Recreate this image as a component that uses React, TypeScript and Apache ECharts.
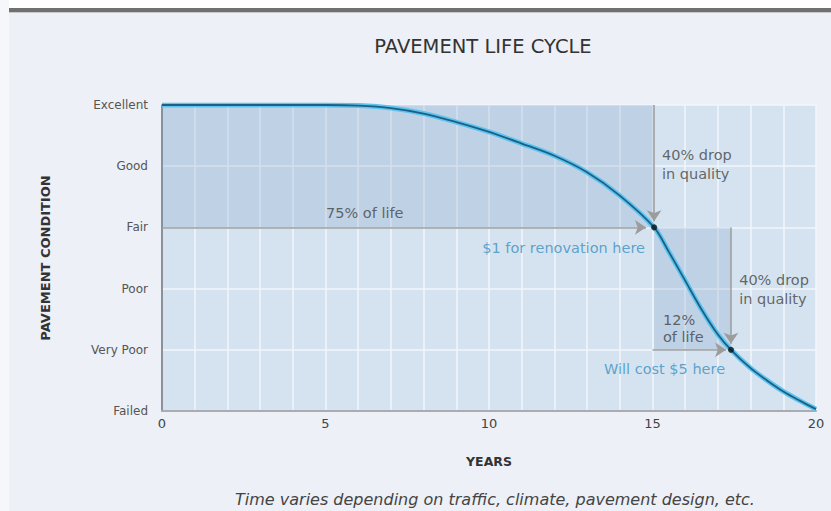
import React, { useEffect, useRef } from "react";
import * as echarts from "echarts";

const conditionLabels = ["Failed", "Very Poor", "Poor", "Fair", "Good", "Excellent"];
const yearTicks = [0, 5, 10, 15, 20];
const curveYears = [0, 5, 6, 7, 8, 9, 10, 11, 12, 13, 14, 15.05, 15.5, 16, 16.5, 17, 17.4, 18, 18.5, 19, 19.5, 20];
const curveCondition = [5, 5, 4.99, 4.95, 4.86, 4.72, 4.56, 4.37, 4.17, 3.9, 3.52, 3.0, 2.6, 2.13, 1.66, 1.25, 1.0, 0.7, 0.5, 0.32, 0.17, 0.03];
const keyPoints = [
  [15.05, 3],
  [17.4, 1],
];
const shadedAreas = [
  [[0, 5], [15.05, 3]],
  [[15.05, 3], [17.4, 1]],
];
const arrows = [
  [[0, 3], [14.8, 3]],
  [[15.05, 5], [15.05, 3.1]],
  [[17.4, 3], [17.4, 1.1]],
  [[15.0, 1], [17.25, 1]],
];
const notes = [
  { x: 6.2, y: 3.24, text: "75% of life", align: "center", color: "#444", lh: 18 },
  { x: 15.29, y: 4.02, text: "40% drop\nin quality", align: "left", color: "#444", lh: 19 },
  { x: 14.77, y: 2.67, text: "$1 for renovation here", align: "right", color: "#3d8fbf", lh: 18 },
  { x: 17.65, y: 1.98, text: "40% drop\nin quality", align: "left", color: "#444", lh: 19 },
  { x: 15.32, y: 1.35, text: "12%\nof life", align: "left", color: "#444", lh: 17 },
  { x: 17.22, y: 0.68, text: "Will cost $5 here", align: "right", color: "#3d8fbf", lh: 18 },
];

const FONT = "'DejaVu Sans', 'Open Sans', sans-serif";

export default function App() {
  const ref = useRef<HTMLDivElement>(null);
  useEffect(() => {
    if (!ref.current) return;
    const chart = echarts.init(ref.current, undefined, { renderer: "svg" });
    const curve = curveYears.map((x, i) => [x, curveCondition[i]]);
    chart.setOption({
      animation: false,
      backgroundColor: "#edf0f6",
      textStyle: { fontFamily: FONT },
      graphic: [
        { type: "rect", shape: { x: 0, y: 0, width: 831, height: 8 }, style: { fill: "#ffffff" }, silent: true },
        { type: "rect", shape: { x: 0, y: 0, width: 9, height: 511 }, style: { fill: "#f6f7fa" }, silent: true },
        { type: "rect", shape: { x: 9, y: 8, width: 822, height: 4 }, style: { fill: "#707070" }, silent: true },
        { type: "rect", shape: { x: 9, y: 12, width: 822, height: 1 }, style: { fill: "#c8c8c8" }, silent: true },
      ],
      title: [
        {
          text: "PAVEMENT LIFE CYCLE",
          left: 478,
          textAlign: "center",
          top: 31,
          textStyle: { fontFamily: FONT, fontSize: 19.5, fontWeight: "normal", color: "#333" },
        },
        {
          text: "Time varies depending on traffic, climate, pavement design, etc.",
          left: 490,
          textAlign: "center",
          top: 486,
          textStyle: { fontFamily: FONT, fontSize: 16, fontWeight: "normal", fontStyle: "italic", color: "#444" },
        },
      ],
      grid: {
        left: 162,
        right: 15,
        top: 105,
        bottom: 100,
        show: true,
        backgroundColor: "#d5e3f0",
        borderWidth: 0,
      },
      xAxis: {
        type: "value",
        min: 0,
        max: 20,
        interval: 5,
        name: "YEARS",
        nameLocation: "middle",
        nameGap: 44,
        nameTextStyle: { fontFamily: FONT, fontSize: 12.5, fontWeight: "bold", color: "#333" },
        axisLine: { show: true, lineStyle: { color: "#a9adb2", width: 2 } },
        axisTick: { show: false },
        axisLabel: {
          fontFamily: FONT,
          fontSize: 13,
          color: "#444",
          margin: 6,
          formatter: (v: number) => (yearTicks.includes(v) ? String(v) : ""),
        },
        splitLine: { show: true, lineStyle: { color: "#f2f6fb", width: 1.5 } },
        minorTick: { show: false, splitNumber: 5 },
        minorSplitLine: { show: true, lineStyle: { color: "#f2f6fb", width: 1.5 } },
      },
      yAxis: {
        type: "value",
        min: 0,
        max: 5,
        interval: 1,
        name: "PAVEMENT CONDITION",
        nameLocation: "middle",
        nameRotate: 90,
        nameGap: 110,
        nameTextStyle: { fontFamily: FONT, fontSize: 13, fontWeight: "bold", color: "#333" },
        axisLine: { show: true, lineStyle: { color: "#6a7078", width: 1.5 } },
        axisTick: { show: false },
        axisLabel: {
          fontFamily: FONT,
          fontSize: 12,
          color: "#555",
          margin: 14,
          formatter: (v: number) => conditionLabels[Math.round(v)] ?? "",
        },
        splitLine: { show: true, lineStyle: { color: "#f2f6fb", width: 1.5 } },
      },
      series: [
        {
          type: "line",
          name: "shade",
          data: [],
          silent: true,
          markArea: {
            silent: true,
            itemStyle: { color: "rgba(110,145,190,0.22)" },
            data: shadedAreas.map(([a, b]) => [{ coord: a }, { coord: b }]),
          },
        },
        {
          type: "line",
          name: "arrows",
          data: [],
          silent: true,
          markLine: {
            silent: true,
            symbol: ["none", "arrow"],
            symbolSize: 11,
            label: { show: false },
            lineStyle: { color: "#9c9c9c", width: 1.5, type: "solid" },
            itemStyle: { color: "#aaa5a0" },
            data: arrows.map(([a, b]) => [{ coord: a }, { coord: b }]),
          },
        },
        {
          type: "line",
          name: "curveGlow",
          data: curve,
          smooth: 0.3,
          showSymbol: false,
          lineStyle: { color: "#5cc4ee", width: 5 },
          z: 3,
        },
        {
          type: "line",
          name: "curve",
          data: curve,
          smooth: 0.3,
          showSymbol: false,
          lineStyle: { color: "#1d5f85", width: 1.8 },
          z: 4,
        },
        {
          type: "scatter",
          name: "points",
          data: keyPoints,
          symbolSize: 6,
          itemStyle: { color: "#111" },
          z: 5,
        },
        {
          type: "scatter",
          name: "notes",
          symbolSize: 0,
          z: 6,
          data: notes.map((n) => ({
            value: [n.x, n.y],
            label: {
              show: true,
              position: "inside",
              formatter: n.text,
              align: n.align,
              verticalAlign: "middle",
              color: n.color,
              fontFamily: FONT,
              fontSize: 14.5,
              lineHeight: n.lh,
            },
          })),
        },
      ],
    });
    return () => chart.dispose();
  }, []);
  return <div ref={ref} style={{ position: "absolute", left: 0, top: 0, width: 831, height: 511 }} />;
}
